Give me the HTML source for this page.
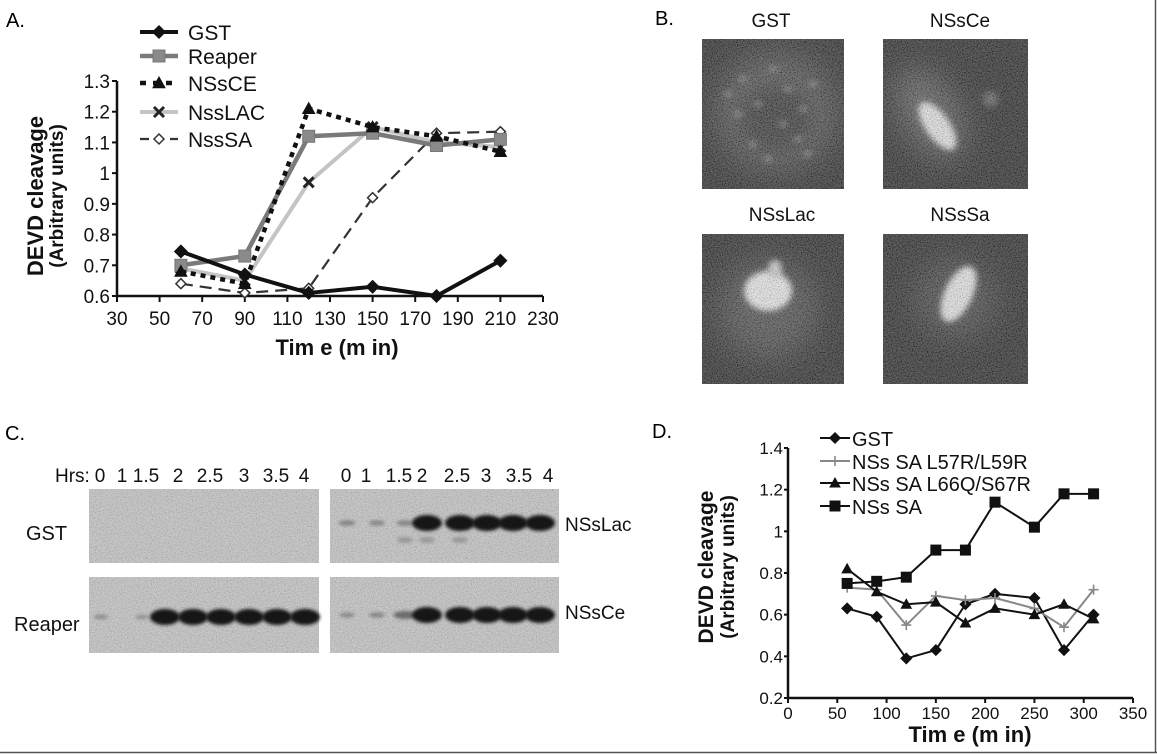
<!DOCTYPE html>
<html><head><meta charset="utf-8">
<style>
html,body{margin:0;padding:0;background:#fff;}
body{width:1157px;height:755px;overflow:hidden;position:relative;font-family:"Liberation Sans",sans-serif;}
svg{position:absolute;left:0;top:0;}
</style></head>
<body>
<svg id="fig" width="1157" height="755" viewBox="0 0 1157 755" xmlns="http://www.w3.org/2000/svg">
<defs>
<filter id="noise" x="0" y="0" width="1" height="1">
  <feTurbulence type="fractalNoise" baseFrequency="0.8" numOctaves="2" seed="3" result="t"/>
  <feColorMatrix type="matrix" in="t" result="n" values="0 0 0 1.2 -0.3  0 0 0 1.2 -0.3  0 0 0 1.2 -0.3  0 0 0 0 0.35"/>
  <feComposite in="n" in2="SourceAlpha" operator="in"/>
</filter>
<filter id="blur3" x="-100%" y="-100%" width="300%" height="300%"><feGaussianBlur stdDeviation="3"/></filter>
<filter id="blur8" x="-100%" y="-100%" width="300%" height="300%"><feGaussianBlur stdDeviation="8"/></filter>
<filter id="blur15" x="-100%" y="-100%" width="300%" height="300%"><feGaussianBlur stdDeviation="15"/></filter>
<filter id="blurband" x="-50%" y="-100%" width="200%" height="300%"><feGaussianBlur stdDeviation="1.6"/></filter>
</defs>

<line x1="1155.5" y1="0" x2="1155.5" y2="753" stroke="#555" stroke-width="1.5"/>
<line x1="0" y1="752.5" x2="1157" y2="752.5" stroke="#555" stroke-width="1.5"/>

<text x="6" y="27" font-size="20">A.</text>
<text x="655" y="25" font-size="20">B.</text>
<text x="5" y="440" font-size="20">C.</text>
<text x="652" y="438" font-size="20">D.</text>

<g id="panelA"></g>
<g id="panelB"></g>
<g id="panelC"></g>
<g id="panelD"></g>
</svg>

<script>
// ---------- Panel A data ----------
const aTimes = [60, 90, 120, 150, 180, 210];
const aGST = [0.745, 0.67, 0.61, 0.63, 0.60, 0.715];
const aReaper = [0.70, 0.73, 1.12, 1.13, 1.09, 1.11];
const aNSsCE = [0.68, 0.64, 1.21, 1.15, 1.12, 1.07];
const aNssLAC = [0.69, 0.65, 0.97, 1.15, 1.10, 1.085];
const aNssSA = [0.64, 0.61, 0.625, 0.92, 1.13, 1.135];
const aXTicks = [30, 50, 70, 90, 110, 130, 150, 170, 190, 210, 230];
const aYTicks = [0.6, 0.7, 0.8, 0.9, 1, 1.1, 1.2, 1.3];
const aYTickLabels = ["0.6", "0.7", "0.8", "0.9", "1", "1.1", "1.2", "1.3"];
const aLegendNames = ["GST", "Reaper", "NSsCE", "NssLAC", "NssSA"];

// ---------- Panel D data ----------
const dTimes = [60, 90, 120, 150, 180, 210, 250, 280, 310];
const dGST = [0.63, 0.59, 0.39, 0.43, 0.65, 0.70, 0.68, 0.43, 0.60];
const dL57R = [0.73, 0.72, 0.55, 0.69, 0.67, 0.68, 0.63, 0.54, 0.72];
const dL66Q = [0.82, 0.71, 0.65, 0.66, 0.56, 0.63, 0.60, 0.65, 0.58];
const dNSsSA = [0.75, 0.76, 0.78, 0.91, 0.91, 1.14, 1.02, 1.18, 1.18];
const dXTicks = [0, 50, 100, 150, 200, 250, 300, 350];
const dYTicks = [0.2, 0.4, 0.6, 0.8, 1, 1.2, 1.4];
const dYTickLabels = ["0.2", "0.4", "0.6", "0.8", "1", "1.2", "1.4"];
const dLegendNames = ["GST", "NSs SA L57R/L59R", "NSs SA L66Q/S67R", "NSs SA"];

// ---------- Panel C data (band intensities 0..1) ----------
const hrsLabels = ["0", "1", "1.5", "2", "2.5", "3", "3.5", "4"];
const gstBlot = [0, 0, 0, 0, 0, 0, 0, 0];
const reaperBlot = [0.15, 0.1, 1, 1, 1, 1, 1, 1];
const nsslacBlot = [0.3, 0.25, 0.3, 0.95, 1, 1, 0.95, 1];
const nssceBlot = [0.2, 0.25, 0.7, 1, 1, 1, 1, 1];

const NS = "http://www.w3.org/2000/svg";
function mk(tag, attrs, parent) {
  const e = document.createElementNS(NS, tag);
  for (const k in attrs) e.setAttribute(k, attrs[k]);
  if (parent) parent.appendChild(e);
  return e;
}
function txt(parent, x, y, s, attrs) {
  const t = mk("text", Object.assign({x: x, y: y}, attrs || {}), parent);
  t.textContent = s;
  return t;
}
function marker(g, type, x, y, size, fill, stroke) {
  let m;
  const s = size;
  if (type === "diamond") m = mk("polygon", {points: `${x},${y-s} ${x+s},${y} ${x},${y+s} ${x-s},${y}`, fill: fill, stroke: stroke, "stroke-width": 1.5}, g);
  else if (type === "square") m = mk("rect", {x: x-s, y: y-s, width: 2*s, height: 2*s, fill: fill, stroke: stroke, "stroke-width": 1}, g);
  else if (type === "triangle") m = mk("polygon", {points: `${x},${y-s} ${x+s},${y+s*0.8} ${x-s},${y+s*0.8}`, fill: fill, stroke: stroke, "stroke-width": 1}, g);
  else if (type === "x") m = mk("path", {d: `M${x-s},${y-s}L${x+s},${y+s}M${x+s},${y-s}L${x-s},${y+s}`, stroke: stroke, "stroke-width": 3}, g);
  else if (type === "plus") m = mk("path", {d: `M${x-s},${y}L${x+s},${y}M${x},${y-s}L${x},${y+s}`, stroke: stroke, "stroke-width": 1.6}, g);
  return m;
}

// ================= Panel A =================
(function () {
  const g = document.getElementById("panelA");
  const x0 = 117, x1 = 543, y0 = 296, y1 = 81;
  const X = v => x0 + (v - 30) / 200 * (x1 - x0);
  const Y = v => y0 - (v - 0.6) / 0.7 * (y0 - y1);
  const ax = mk("path", {d: `M${x0},${y1}L${x0},${y0}L${x1},${y0}`, fill: "none", stroke: "#111", "stroke-width": 2.5}, g);
  
  
  aXTicks.forEach(v => {
    mk("line", {x1: X(v), y1: y0, x2: X(v), y2: y0 + 6, stroke: "#111", "stroke-width": 2}, g);
    const t = txt(g, X(v), y0 + 29, String(v), {"font-size": 19, "text-anchor": "middle", fill: "#111"});
    
    
  });
  aYTicks.forEach((v, i) => {
    mk("line", {x1: x0 - 5, y1: Y(v), x2: x0, y2: Y(v), stroke: "#111", "stroke-width": 2}, g);
    const t = txt(g, x0 - 7, Y(v) + 7, aYTickLabels[i], {"font-size": 19, "text-anchor": "end", fill: "#111"});
    
    
  });
  const xt = txt(g, 337, 355, "Tim e (m in)", {"font-size": 22, "font-weight": "bold", "text-anchor": "middle", fill: "#111"});
  
  
  const yt = mk("text", {transform: "translate(43,196) rotate(-90)", "font-size": 22, "font-weight": "bold", "text-anchor": "middle", fill: "#111"}, g);
  yt.textContent = "DEVD cleavage";
  
  
  const yt2 = mk("text", {transform: "translate(63,196) rotate(-90)", "font-size": 19, "font-weight": "bold", "text-anchor": "middle", fill: "#111"}, g);
  yt2.textContent = "(Arbitrary units)";
  
  

  const series = [
    {vals: aGST, color: "#111", w: 4, dash: "", mk: "diamond", mf: "#111", ms: "#111", sz: 6},
    {vals: aReaper, color: "#7a7a7a", w: 4.5, dash: "", mk: "square", mf: "#8a8a8a", ms: "#777", sz: 6},
    {vals: aNSsCE, color: "#111", w: 4.5, dash: "5,5", mk: "triangle", mf: "#111", ms: "#111", sz: 6},
    {vals: aNssLAC, color: "#c4c4c4", w: 4, dash: "", mk: "x", mf: "none", ms: "#222", sz: 5},
    {vals: aNssSA, color: "#333", w: 2.2, dash: "12,7", mk: "diamond", mf: "#fff", ms: "#333", sz: 5}
  ];
  const order = [4, 3, 1, 2, 0];
  order.forEach(si => {
    const s = series[si];
    const pts = aTimes.map((t, i) => `${X(t)},${Y(s.vals[i])}`).join(" ");
    const pl = mk("polyline", {points: pts, fill: "none", stroke: s.color, "stroke-width": s.w, "stroke-dasharray": s.dash, "stroke-linejoin": "round"}, g);
    
    
    aTimes.forEach((t, i) => {
      const m = marker(g, s.mk, X(t), Y(s.vals[i]), s.sz, s.mf, s.ms);
      
      
    });
  });
  const ly = [32, 56, 83, 112, 139];
  series.forEach((s, i) => {
    const lg = mk("g", {}, g);
    
    
    mk("line", {x1: 140, y1: ly[i], x2: 178, y2: ly[i], stroke: s.color, "stroke-width": s.w, "stroke-dasharray": s.dash ? (i === 2 ? "6,7" : "9,6") : ""}, lg);
    marker(lg, s.mk, 159, ly[i], s.sz, s.mf, s.ms);
    txt(lg, 188, ly[i] + 8, aLegendNames[i], {"font-size": 21, fill: "#111"});
  });
})();

// ================= Panel B =================
(function () {
  const g = document.getElementById("panelB");
  const panels = [
    {x: 702, y: 39, name: "GST", lx: 771, ly: 27, kind: "ring"},
    {x: 883, y: 39, name: "NSsCe", lx: 960, ly: 27, kind: "streak"},
    {x: 702, y: 234, name: "NSsLac", lx: 782, ly: 221, kind: "blob"},
    {x: 883, y: 234, name: "NSsSa", lx: 960, ly: 221, kind: "slab"}
  ];
  panels.forEach(p => {
    const w = p.kind === "ring" || p.kind === "blob" ? 142 : 145, h = 150;
    const lab = txt(g, p.lx, p.ly, p.name, {"font-size": 19, "text-anchor": "middle", fill: "#111"});
    
    
    const sg = mk("g", {}, g);
    
    
    const cp = mk("clipPath", {id: "cp" + p.name}, sg);
    mk("rect", {x: p.x, y: p.y, width: w, height: h}, cp);
    const inner = mk("g", {"clip-path": `url(#cp${p.name})`}, sg);
    mk("rect", {x: p.x, y: p.y, width: w, height: h, fill: "#2f2f2f"}, inner);
    const cx = p.x + w / 2, cy = p.y + h / 2;
    if (p.kind === "ring") {
      mk("ellipse", {cx: cx + 3, cy: cy - 2, rx: 62, ry: 60, fill: "#585858", filter: "url(#blur15)"}, inner);
      mk("ellipse", {cx: cx + 3, cy: cy + 5, rx: 36, ry: 34, fill: "#3e3e3e", filter: "url(#blur8)"}, inner);
      [[-30,-35],[15,-25],[30,-5],[-15,-10],[10,10],[25,25],[-35,0],[0,-45],[40,-30],[-20,30],[-45,-20],[35,40],[-5,45]].forEach(d => {
        mk("ellipse", {cx: cx + d[0], cy: cy + d[1], rx: 4, ry: 2, fill: "#b0b0b0", filter: "url(#blur3)"}, inner);
      });
    } else if (p.kind === "streak") {
      mk("ellipse", {cx: cx - 25, cy: cy, rx: 28, ry: 50, fill: "#666", transform: `rotate(-30 ${cx-25} ${cy})`, filter: "url(#blur15)"}, inner);
      mk("ellipse", {cx: cx - 18, cy: cy + 12, rx: 12, ry: 28, fill: "#f4f4f4", transform: `rotate(-35 ${cx-18} ${cy+12})`, filter: "url(#blur3)"}, inner);
      mk("circle", {cx: cx + 35, cy: cy - 15, r: 8, fill: "#666", filter: "url(#blur3)"}, inner);
    } else if (p.kind === "blob") {
      mk("ellipse", {cx: cx - 5, cy: cy, rx: 50, ry: 50, fill: "#555", filter: "url(#blur15)"}, inner);
      mk("ellipse", {cx: cx - 5, cy: cy - 18, rx: 24, ry: 20, fill: "#fafafa", filter: "url(#blur3)"}, inner);
      mk("ellipse", {cx: cx + 2, cy: cy - 40, rx: 7, ry: 9, fill: "#ddd", filter: "url(#blur3)"}, inner);
    } else {
      mk("ellipse", {cx: cx, cy: cy - 10, rx: 40, ry: 40, fill: "#505050", filter: "url(#blur15)"}, inner);
      mk("ellipse", {cx: cx + 3, cy: cy - 15, rx: 14, ry: 30, fill: "#f6f6f6", transform: `rotate(25 ${cx+3} ${cy-15})`, filter: "url(#blur3)"}, inner);
    }
    mk("rect", {x: p.x, y: p.y, width: w, height: h, fill: "#000", filter: "url(#noise)"}, inner);
  });
})();

// ================= Panel C =================
(function () {
  const g = document.getElementById("panelC");
  const h1 = txt(g, 55, 482, "Hrs:", {"font-size": 19, fill: "#111"});
  
  
  const leftLab = [100, 122, 146, 178, 210, 244, 276, 304];
  const rightLab = [346, 366, 399, 422, 457, 486, 519, 548];
  hrsLabels.forEach((h, i) => {
    const a = txt(g, leftLab[i], 482, h, {"font-size": 19, "text-anchor": "middle", fill: "#111"});
    
    
    const b = txt(g, rightLab[i], 482, h, {"font-size": 19, "text-anchor": "middle", fill: "#111"});
    
    
  });
  const rowLabs = [["GST", 26, 540], ["Reaper", 14, 631]];
  rowLabs.forEach(r => {
    const t = txt(g, r[1], r[2], r[0], {"font-size": 20, fill: "#111"});
    
    
  });
  const s1 = txt(g, 565, 531, "NSsLac", {"font-size": 19, fill: "#111"});
  
  
  const s2 = txt(g, 565, 619, "NSsCe", {"font-size": 19, fill: "#111"});
  
  

  const leftLanes = [101, 125, 142, 165, 193, 221, 249, 277];
  const rLanes = [347, 377, 405, 427, 460, 487, 513, 540];
  const blots = [
    {x: 89, y: 489, w: 230, h: 74, vals: gstBlot, lanes: leftLanes, by: 530, name: "gst"},
    {x: 330, y: 489, w: 229, h: 74, vals: nsslacBlot, lanes: rLanes, by: 523, name: "nsslac"},
    {x: 89, y: 577, w: 230, h: 76, vals: reaperBlot, lanes: [101, 142, 165, 193, 221, 249, 277, 305], by: 617, name: "reaper"},
    {x: 330, y: 577, w: 229, h: 76, vals: nssceBlot, lanes: rLanes, by: 615, name: "nssce"}
  ];
  blots.forEach(b => {
    const bg = mk("g", {}, g);
    
    
    mk("rect", {x: b.x, y: b.y, width: b.w, height: b.h, fill: "#cbcbcb"}, bg);
    mk("rect", {x: b.x, y: b.y, width: b.w, height: b.h, fill: "#000", filter: "url(#noise)", opacity: 0.6}, bg);
    b.vals.forEach((v, i) => {
      if (v <= 0) return;
      const strong = v > 0.8;
      const band = mk("ellipse", {cx: b.lanes[i], cy: b.by, rx: strong ? 15 : 6 + v * 8, ry: strong ? 8 : 2 + v * 3,
        fill: strong ? "#161616" : "#555", opacity: strong ? 1 : 0.35 + v * 0.6, filter: "url(#blurband)"}, bg);
      
      
      if (b.name === "nsslac" && i >= 2 && i <= 4) {
        mk("ellipse", {cx: b.lanes[i], cy: b.by + 17, rx: 8, ry: 3, fill: "#888", opacity: 0.7, filter: "url(#blurband)"}, bg);
      }
    });
  });
})();

// ================= Panel D =================
(function () {
  const g = document.getElementById("panelD");
  const x0 = 788, x1 = 1133, y0 = 698, y1 = 448;
  const X = v => x0 + v / 350 * (x1 - x0);
  const Y = v => y0 - (v - 0.2) / 1.2 * (y0 - y1);
  const ax = mk("path", {d: `M${x0},${y1}L${x0},${y0}L${x1},${y0}`, fill: "none", stroke: "#111", "stroke-width": 2.5}, g);
  
  
  dXTicks.forEach(v => {
    mk("line", {x1: X(v), y1: y0, x2: X(v), y2: y0 + 5, stroke: "#111", "stroke-width": 2}, g);
    const t = txt(g, X(v), y0 + 21, String(v), {"font-size": 17, "text-anchor": "middle", fill: "#111"});
    
    
  });
  dYTicks.forEach((v, i) => {
    mk("line", {x1: x0 - 4, y1: Y(v), x2: x0, y2: Y(v), stroke: "#111", "stroke-width": 2}, g);
    const t = txt(g, x0 - 5, Y(v) + 6, dYTickLabels[i], {"font-size": 17, "text-anchor": "end", fill: "#111"});
    
    
  });
  const xt = txt(g, 970, 742, "Tim e (m in)", {"font-size": 22, "font-weight": "bold", "text-anchor": "middle", fill: "#111"});
  
  
  const yt = mk("text", {transform: "translate(713,567) rotate(-90)", "font-size": 21, "font-weight": "bold", "text-anchor": "middle", fill: "#111"}, g);
  yt.textContent = "DEVD cleavage";
  
  
  const yt2 = mk("text", {transform: "translate(734,567) rotate(-90)", "font-size": 19, "font-weight": "bold", "text-anchor": "middle", fill: "#111"}, g);
  yt2.textContent = "(Arbitrary units)";
  
  

  const series = [
    {vals: dGST, color: "#111", mk: "diamond", mf: "#111", sz: 5},
    {vals: dL57R, color: "#888", mk: "plus", mf: "#888", sz: 5},
    {vals: dL66Q, color: "#111", mk: "triangle", mf: "#111", sz: 5},
    {vals: dNSsSA, color: "#111", mk: "square", mf: "#111", sz: 5}
  ];
  series.forEach((s, si) => {
    const pts = dTimes.map((t, i) => `${X(t)},${Y(s.vals[i])}`).join(" ");
    const pl = mk("polyline", {points: pts, fill: "none", stroke: s.color, "stroke-width": 2, "stroke-linejoin": "round"}, g);
    
    
    dTimes.forEach((t, i) => {
      const m = marker(g, s.mk, X(t), Y(s.vals[i]), s.sz, s.mf, s.color);
      
      
    });
  });
  const ly = [438, 461, 483, 506];
  series.forEach((s, i) => {
    const lg = mk("g", {}, g);
    
    
    mk("line", {x1: 820, y1: ly[i], x2: 850, y2: ly[i], stroke: s.color, "stroke-width": 2}, lg);
    marker(lg, s.mk, 835, ly[i], s.sz, s.mf, s.color);
    txt(lg, 852, ly[i] + 8, dLegendNames[i], {"font-size": 20, fill: "#111"});
  });
})();
</script>
</body></html>
